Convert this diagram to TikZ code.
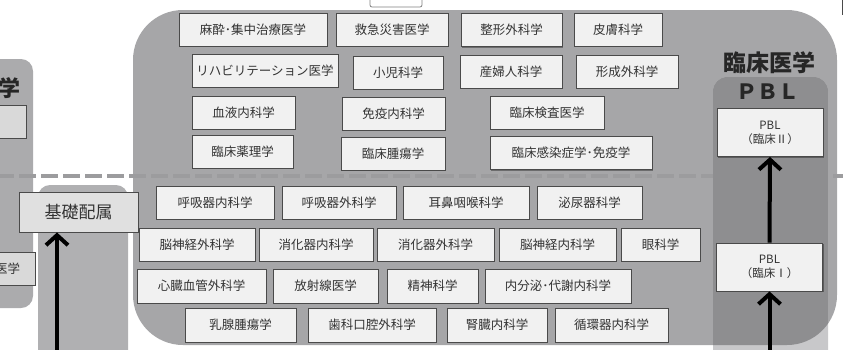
\documentclass[tikz,border=0pt]{standalone}
\usepackage{fontspec}
\setmainfont{Noto Sans CJK JP}
\usetikzlibrary{arrows.meta,shadows}
\definecolor{bigreg}{HTML}{A6A6A8}
\definecolor{sidereg}{HTML}{ABABAD}
\definecolor{midcol}{HTML}{B0B0B2}
\definecolor{pbldark}{HTML}{8E8E90}
\definecolor{pbllight}{HTML}{C8C8CA}
\definecolor{boxfill}{HTML}{F1F1F1}
\definecolor{boxline}{HTML}{4A4A4A}
\definecolor{txt}{HTML}{333333}
\definecolor{dashcol}{HTML}{9C9C9E}
\begin{document}
\begin{tikzpicture}[x=1pt,y=-1pt,
  box/.style={draw=boxline,line width=0.9pt,fill=boxfill,inner sep=0pt,text=txt,
    minimum height=33pt,font=\fontsize{12.5}{14}\selectfont,
    drop shadow={shadow xshift=1pt,shadow yshift=-1pt,fill=black,opacity=0.35}},
  pblbox/.style={box,minimum width=106pt,minimum height=48pt,align=center,
    font=\fontsize{11.5}{14}\selectfont},
  bigarrow/.style={line width=4pt,-{Straight Barb[length=10pt,width=22pt,line width=4pt]}}]
\useasboundingbox (0,0) rectangle (843,349);
% regions
\fill[bigreg,rounded corners=50pt] (133,10) rectangle (837,345);
\fill[sidereg,rounded corners=12pt] (-20,59) rectangle (33,308);
\fill[midcol,rounded corners=12pt] (38,185) rectangle (128,380);
% dashed line
\draw[dashcol,line width=4pt,dash pattern=on 17pt off 5pt] (-3,176) -- (843,176);
% PBL column
\fill[pbllight,rounded corners=14pt] (713,77) rectangle (828,380);
\begin{scope}
\clip[rounded corners=50pt] (133,10) rectangle (837,345);
\fill[pbldark,rounded corners=14pt] (713,77) rectangle (828,380);
\end{scope}
% small top box
\node[draw=boxline!70,fill=white,line width=0.8pt,rounded corners=2pt,minimum width=52pt,minimum height=20pt,inner sep=0pt] (topbox) at (396,-3) {};
\draw[boxline,line width=2pt] (842.5,0) -- (842.5,15);
% titles
\node[text=black!85,font=\fontsize{23}{26}\selectfont\bfseries,inner sep=0pt] (title) at (769,63) {臨床医学};
\node[text=black!85,font=\fontsize{21}{24}\selectfont\bfseries,inner sep=0pt] (pbltitle) at (768,92) {ＰＢＬ};
\node[text=black!85,font=\fontsize{22}{24}\selectfont\bfseries,inner sep=0pt,anchor=east] (lefttitle) at (21,88) {学};
% left boxes
\node[box,fill=black!15,minimum width=41pt] (lb1) at (5.5,121.5) {};
\node[box,fill=black!15,minimum width=55pt] (lb2) at (7.5,268.5) {医学};
\node[box,fill=black!12,minimum width=119pt,minimum height=40pt,font=\fontsize{17}{20}\selectfont] (kiso) at (78.5,212) {基礎配属};
% top section
\node[box,minimum width=148pt] (a1) at (253,29.5) {麻酔･集中治療医学};
\node[box,minimum width=112pt] (a2) at (392,29.5) {救急災害医学};
\node[box,minimum width=101pt] (a3) at (511.5,30) {整形外科学};
\node[box,minimum width=88pt] (a4) at (618,29.5) {皮膚科学};
\node[box,minimum width=146pt] (b1) at (265,70.5) {リハビリテーション医学};
\node[box,minimum width=90pt] (b2) at (398,72.5) {小児科学};
\node[box,minimum width=102pt] (b3) at (511,71.5) {産婦人科学};
\node[box,minimum width=102pt] (b4) at (627,71.5) {形成外科学};
\node[box,minimum width=103pt] (c1) at (243.5,112.5) {血液内科学};
\node[box,minimum width=103pt] (c2) at (393.5,113.5) {免疫内科学};
\node[box,minimum width=114pt] (c3) at (547,112.5) {臨床検査医学};
\node[box,minimum width=101pt] (d1) at (242.5,151.5) {臨床薬理学};
\node[box,minimum width=104pt] (d2) at (393,153.5) {臨床腫瘍学};
\node[box,minimum width=162pt] (d3) at (571,153) {臨床感染症学･免疫学};
% bottom section
\node[box,minimum width=118pt] (e1) at (215,202.5) {呼吸器内科学};
\node[box,minimum width=114pt] (e2) at (339,202.5) {呼吸器外科学};
\node[box,minimum width=126pt] (e3) at (466,202.5) {耳鼻咽喉科学};
\node[box,minimum width=105pt] (e4) at (589.5,202.5) {泌尿器科学};
\node[box,minimum width=116pt] (f1) at (197,244.5) {脳神経外科学};
\node[box,minimum width=114pt] (f2) at (316,244.5) {消化器内科学};
\node[box,minimum width=117pt] (f3) at (435.5,244.5) {消化器外科学};
\node[box,minimum width=117pt] (f4) at (557.5,244.5) {脳神経内科学};
\node[box,minimum width=79pt] (f5) at (660.5,244.5) {眼科学};
\node[box,minimum width=129pt,minimum height=34pt] (g1) at (201.5,286) {心臓血管外科学};
\node[box,minimum width=105pt,minimum height=34pt] (g2) at (325.5,286) {放射線医学};
\node[box,minimum width=91pt,minimum height=34pt] (g3) at (432.5,286) {精神科学};
\node[box,minimum width=146pt,minimum height=34pt] (g4) at (558,286) {内分泌･代謝内科学};
\node[box,minimum width=111pt,minimum height=34pt] (h1) at (240.5,325) {乳腺腫瘍学};
\node[box,minimum width=128pt,minimum height=34pt] (h2) at (372,325) {歯科口腔外科学};
\node[box,minimum width=100pt,minimum height=34pt] (h3) at (497,325) {腎臓内科学};
\node[box,minimum width=113pt,minimum height=34pt] (h4) at (611.5,325) {循環器内科学};
% PBL boxes
\node[pblbox] (p2) at (770,132.5) {PBL\\（臨床Ⅱ）};
\node[pblbox] (p1) at (769.5,267) {PBL\\（臨床Ⅰ）};
% arrows
\coordinate (kisofoot) at (57,352);
\coordinate (pblfoot) at (769.5,352);
\draw[bigarrow] (kisofoot) -- (kisofoot |- kiso.south);
\draw[bigarrow] (pblfoot) -- (p1.south);
\draw[bigarrow] (p1.north) -- (p2.south);
\end{tikzpicture}
\end{document}
